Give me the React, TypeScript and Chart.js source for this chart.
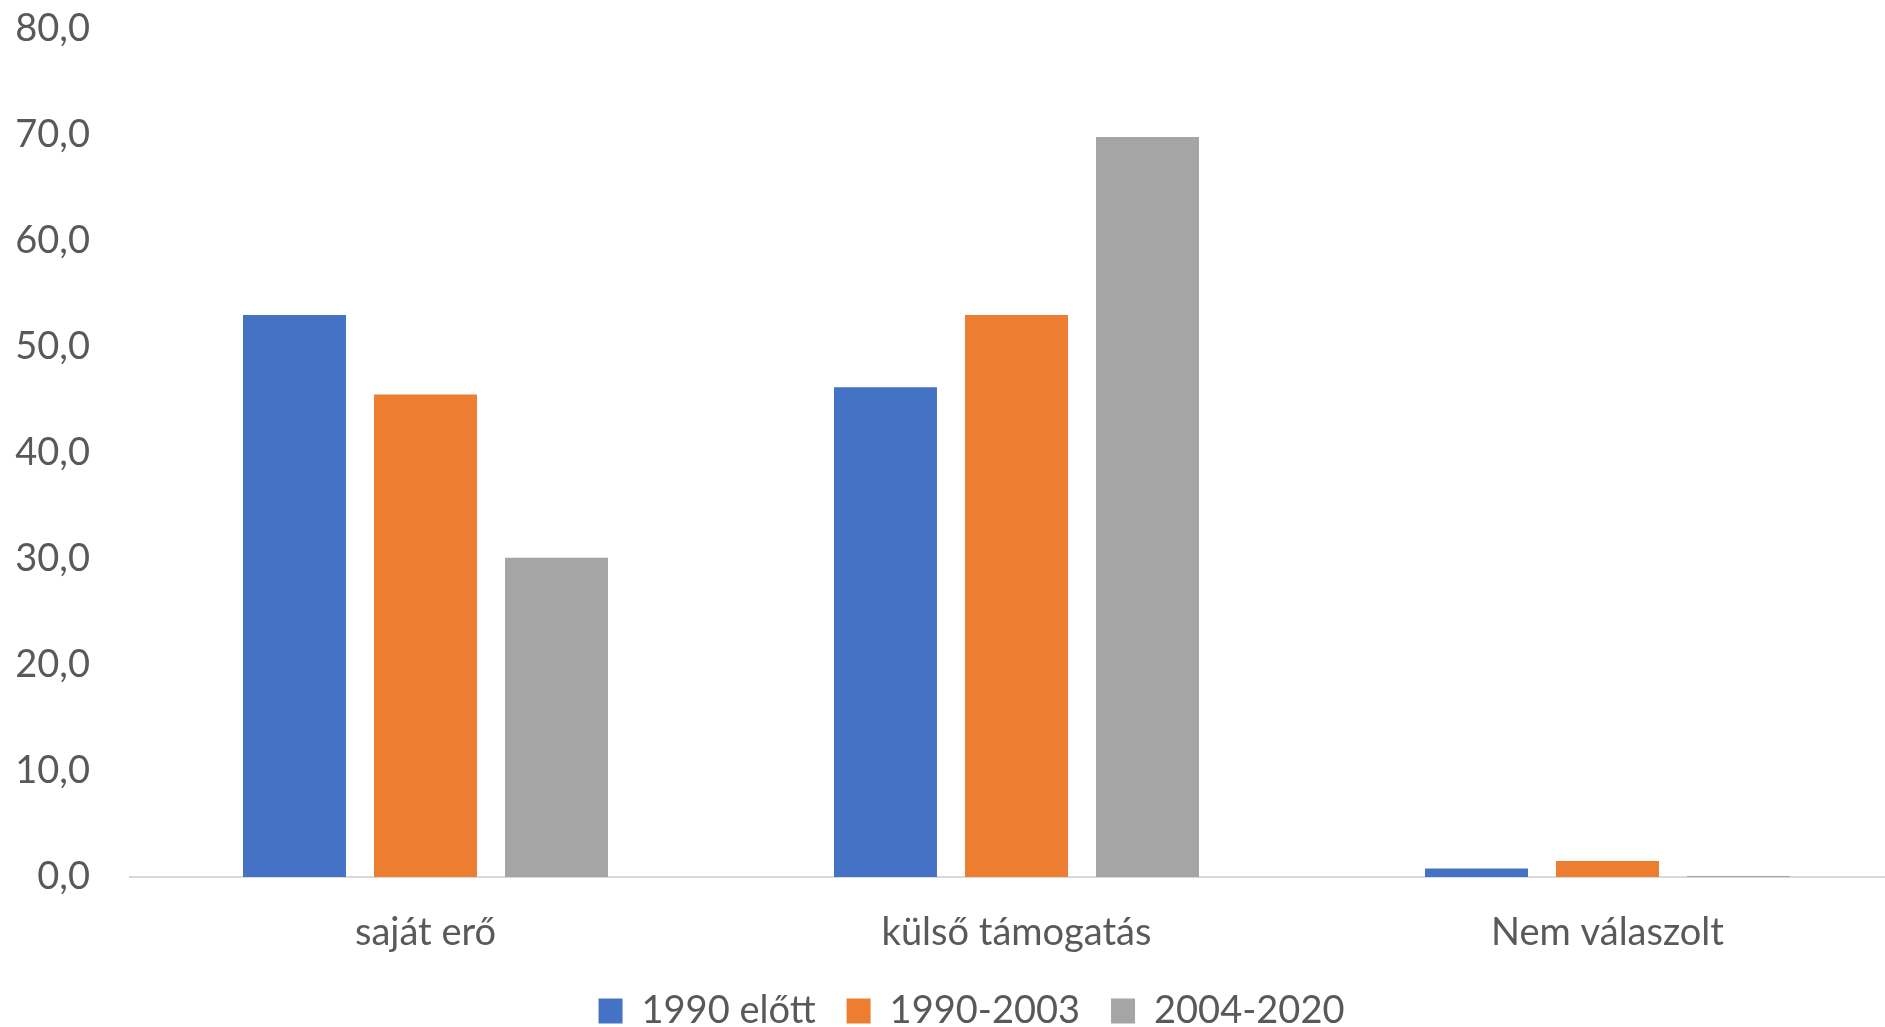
import React, { useEffect, useRef } from "react";
import { Chart, registerables } from "chart.js";

Chart.register(...registerables);

const categories = ["saját erő", "külső támogatás", "Nem válaszolt"];
const seriesNames = ["1990 előtt", "1990-2003", "2004-2020"];
const before1990 = [53.0, 46.2, 0.8];
const from1990to2003 = [45.5, 53.0, 1.5];
const from2004to2020 = [30.1, 69.8, 0.1];
const seriesColors = ["#4472C4", "#ED7D31", "#A5A5A5"];
const yMin = 0;
const yMax = 80;
const yStep = 10;

const FONT = "Lato, 'Open Sans', sans-serif";
const TEXT = "#595959";

export default function App() {
  const ref = useRef<HTMLCanvasElement | null>(null);
  useEffect(() => {
    if (!ref.current) return;
    const values = [before1990, from1990to2003, from2004to2020];
    const chart = new Chart(ref.current, {
      type: "bar",
      data: {
        labels: categories,
        datasets: seriesNames.map((name, i) => ({
          label: name,
          data: values[i],
          backgroundColor: seriesColors[i],
          borderWidth: 0,
          categoryPercentage: 0.665,
          barPercentage: 0.786,
        })),
      },
      options: {
        responsive: false,
        animation: false,
        layout: { padding: { left: 40, top: 26, right: 0, bottom: 0 } },
        plugins: {
          tooltip: { enabled: false },
          legend: {
            position: "bottom",
            labels: {
              boxWidth: 24,
              boxHeight: 25,
              padding: 31,
              color: TEXT,
              font: { family: FONT, size: 38 },
            },
          },
        },
        scales: {
          x: {
            grid: { display: false, drawTicks: false },
            border: { display: true, color: "#D9D9D9", width: 2 },
            ticks: {
              color: TEXT,
              font: { family: FONT, size: 38 },
              padding: 33,
            },
            afterFit: (s: any) => {
              s.height = 84;
              s._computeLabelArea = () => undefined;
            },
          },
          y: {
            min: yMin,
            max: yMax,
            grid: { display: false, drawTicks: false },
            border: { display: false },
            ticks: {
              stepSize: yStep,
              color: TEXT,
              font: { family: FONT, size: 38 },
              padding: 40,
              callback: (v: any) => Number(v).toFixed(1).replace(".", ","),
            },
            afterFit: (s: any) => {
              s.width = 90;
              s._computeLabelArea = () => undefined;
            },
          },
        },
      } as any,
    });
    return () => chart.destroy();
  }, []);
  return (
    <div
      style={{
        position: "fixed",
        left: 0,
        top: 0,
        width: 1885,
        height: 1027,
        overflow: "hidden",
        background: "#fff",
      }}
    >
      <canvas
        ref={ref}
        width={1903}
        height={1074}
        style={{ display: "block", position: "absolute", left: 0, top: -34 }}
      />
    </div>
  );
}
